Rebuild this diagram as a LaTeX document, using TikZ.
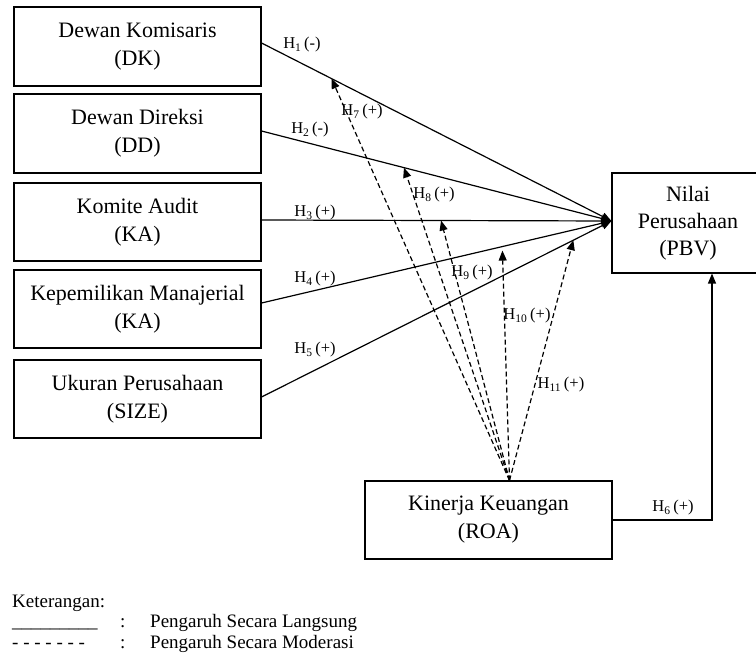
\documentclass[tikz,border=0pt]{standalone}
\usepackage{fontspec}
\setmainfont{Liberation Serif}
\usetikzlibrary{arrows.meta,calc}
\begin{document}
\begin{tikzpicture}[x=1pt,y=-1pt,
  box/.style={draw, line width=1.1pt, minimum width=247pt, minimum height=79pt, inner sep=0pt, align=center, font=\fontsize{22}{28}\selectfont},
  direct/.style={line width=1.2pt, -{Triangle[length=10pt,width=8pt]}},
  moder/.style={line width=1.2pt, dash pattern=on 5pt off 3pt, -{Triangle[length=10pt,width=8pt]}},
  hlab/.style={font=\fontsize{16.5}{18}\selectfont, inner sep=0pt},
  leg/.style={font=\fontsize{19}{22}\selectfont, inner sep=0pt, anchor=base west}]
\useasboundingbox (0,0) rectangle (756,653);
\clip (0,0) rectangle (756,653);

% left boxes
\node[box] (b1) at (137.5,46.5) {Dewan Komisaris\\(DK)};
\node[box] (b2) at (137.5,133.5) {Dewan Direksi\\(DD)};
\node[box, minimum height=78pt] (b3) at (137.5,222) {Komite Audit\\(KA)};
\node[box, minimum height=78pt] (b4) at (137.5,309) {Kepemilikan Manajerial\\(KA)};
\node[box, minimum height=78pt] (b5) at (137.5,399) {Ukuran Perusahaan\\(SIZE)};

% right and bottom boxes
\node[box, minimum width=152pt, minimum height=100pt, font=\fontsize{22}{27}\selectfont] (pbv) at (688,223) {Nilai\\Perusahaan\\(PBV)};
\node[box, minimum height=78pt] (roa) at (488.5,520) {Kinerja Keuangan\\(ROA)};

% anchor coordinates
\coordinate (s1) at ([yshift=3.5pt]b1.east);
\coordinate (s2) at ([yshift=2.5pt]b2.east);
\coordinate (s3) at ([yshift=2pt]b3.east);
\coordinate (s4) at ([yshift=6pt]b4.east);
\coordinate (s5) at ([yshift=2pt]b5.east);
\coordinate (T) at ([yshift=2pt]pbv.west);
\coordinate (r0) at ([xshift=21pt]roa.north);
\coordinate (h6end) at ([xshift=24pt]pbv.south);

% direct effects
\draw[direct] (s1) -- (T);
\draw[direct] (s2) -- (T);
\draw[direct] (s3) -- (T);
\draw[direct] (s4) -- (T);
\draw[direct] (s5) -- (T);
\draw[direct] (roa.east) -| (h6end);

% points on direct lines
\path (s1) -- (T) coordinate[pos=0.2] (m7);
\path (s2) -- (T) coordinate[pos=0.407] (m8);
\path (s3) -- (T) coordinate[pos=0.513] (m9);
\path (s4) -- (T) coordinate[pos=0.688] (m10);
\path (s5) -- (T) coordinate[pos=0.891] (m11);

% moderating effects
\draw[moder] (r0) -- (m7);
\draw[moder] (r0) -- (m8);
\draw[moder] (r0) -- (m9);
\draw[moder, shorten >=4pt] (r0) -- (m10);
\draw[moder] (r0) -- (m11);

% labels
\node[hlab] (l1) at (302,45) {H\textsubscript{1}\,(-)};
\node[hlab] (l7) at (362,112) {H\textsubscript{7}\,(+)};
\node[hlab] (l2) at (310,130) {H\textsubscript{2}\,(-)};
\node[hlab] (l8) at (434,195) {H\textsubscript{8}\,(+)};
\node[hlab] (l3) at (315,213) {H\textsubscript{3}\,(+)};
\node[hlab] (l4) at (315,279) {H\textsubscript{4}\,(+)};
\node[hlab] (l9) at (472,273) {H\textsubscript{9}\,(+)};
\node[hlab] (l5) at (315,350) {H\textsubscript{5}\,(+)};
\node[hlab] (l10) at (527,316) {H\textsubscript{10}\,(+)};
\node[hlab] (l11) at (561,385) {H\textsubscript{11}\,(+)};
\node[hlab] (l6) at (673,508) {H\textsubscript{6}\,(+)};

% legend
\node[leg] (k0) at (12,607) {Keterangan:};
\node[leg] (k1) at (12,627) {\_\_\_\_\_\_\_\_\_};
\node[leg] (k1c) at (120,627) {:};
\node[leg] (k1t) at (150,627) {Pengaruh Secara Langsung};
\node[leg] (k2) at (12,648) {- - - - - - -};
\node[leg] (k2c) at (120,648) {:};
\node[leg] (k2t) at (150,648) {Pengaruh Secara Moderasi};
\end{tikzpicture}
\end{document}
